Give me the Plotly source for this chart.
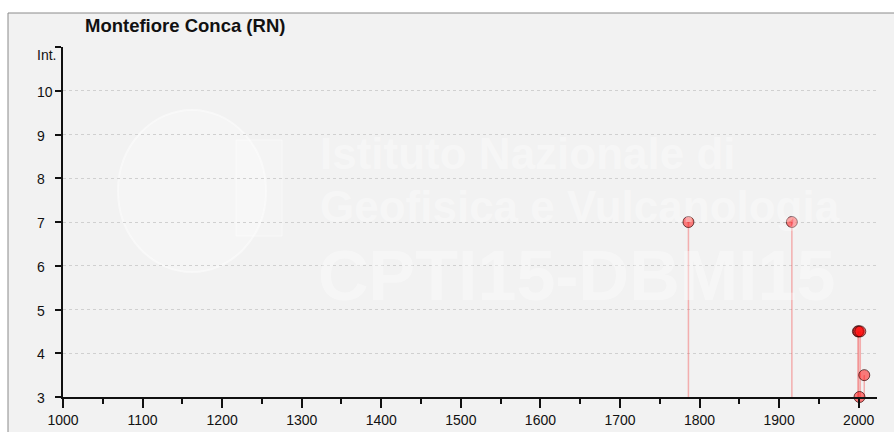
import plotly.graph_objects as go

# ---- data ----
years = [1786, 1916, 1999, 2000, 2002, 2001, 2007]
intensity = [7, 7, 4.5, 4.5, 4.5, 3, 3.5]
x_tick_vals = [1000, 1100, 1200, 1300, 1400, 1500, 1600, 1700, 1800, 1900, 2000]
x_tick_text = ["1000", "1100", "1200", "1300", "1400", "1500", "1600", "1700", "1800", "1900", "2000"]
y_tick_vals = [3, 4, 5, 6, 7, 8, 9, 10, 11]
y_tick_text = ["3", "4", "5", "6", "7", "8", "9", "10", "Int."]
title_text = "Montefiore Conca (RN)"
watermark_lines = ["Istituto Nazionale di", "Geofisica e Vulcanologia", "CPTI15-DBMI15"]

W, H = 894, 432
L, R, T, B = 63, 17, 47, 35
PW, PH = W - L - R, H - T - B
Y_MIN, Y_MAX = 3, 11


def px(x):
    return (x - L) / PW


def py(y):
    return (H - B - y) / PH


FONT = "Liberation Sans, Arial, sans-serif"
WM = "rgba(255,255,255,0.35)"

fig = go.Figure()
fig.add_trace(go.Scatter(
    x=years, y=intensity, mode="markers",
    marker=dict(size=11, color="rgba(255,0,0,0.5)",
                line=dict(color="rgba(40,0,0,0.85)", width=0.8)),
    error_y=dict(type="data", symmetric=False,
                 array=[0] * len(intensity),
                 arrayminus=[v - Y_MIN for v in intensity],
                 color="rgba(245,80,80,0.42)", thickness=1.5, width=0),
    cliponaxis=False, hoverinfo="x+y", showlegend=False,
))

shapes = [
    # outer panel
    dict(type="rect", xref="paper", yref="paper", layer="below",
         x0=px(8), x1=px(W + 10), y0=py(H + 10), y1=py(13),
         fillcolor="#f2f2f2", line=dict(color="#8a8a8a", width=1)),
    # faint globe logo
    dict(type="circle", xref="paper", yref="paper", layer="below",
         x0=px(118), x1=px(266), y0=py(272), y1=py(110),
         fillcolor="rgba(255,255,255,0.22)", line=dict(color="rgba(255,255,255,0.45)", width=2)),
    dict(type="rect", xref="paper", yref="paper", layer="below",
         x0=px(236), x1=px(282), y0=py(236), y1=py(140),
         fillcolor="rgba(255,255,255,0.2)", line=dict(color="rgba(255,255,255,0.45)", width=1)),
]

annotations = [
    dict(text=watermark_lines[0], xref="paper", yref="paper", x=px(318), y=py(153),
         xanchor="left", yanchor="middle", showarrow=False,
         font=dict(family=FONT, size=44, color=WM, weight="bold")),
    dict(text=watermark_lines[1], xref="paper", yref="paper", x=px(318), y=py(206),
         xanchor="left", yanchor="middle", showarrow=False,
         font=dict(family=FONT, size=44, color=WM, weight="bold")),
    dict(text=watermark_lines[2], xref="paper", yref="paper", x=px(316), y=py(276),
         xanchor="left", yanchor="middle", showarrow=False,
         font=dict(family=FONT, size=70, color=WM, weight="bold")),
]

# y tick labels: left-aligned column, "Int." sits just below the top tick
for v, t in zip(y_tick_vals, y_tick_text):
    annotations.append(dict(
        text=t, xref="paper", yref="y", x=px(35), y=v,
        xanchor="left", yanchor="middle", showarrow=False,
        yshift=-8 if t == "Int." else -1,
        font=dict(family=FONT, size=14, color="#111")))

fig.update_layout(
    width=W, height=H,
    margin=dict(l=L, r=R, t=T, b=B, autoexpand=False),
    paper_bgcolor="white", plot_bgcolor="#f2f2f2",
    font=dict(family=FONT, size=14, color="#111"),
    title=dict(text="<b>" + title_text + "</b>", x=85 / W, xref="container", xanchor="left",
               y=1 - 26 / H, yref="container", yanchor="middle",
               font=dict(family=FONT, size=18.5, color="#111")),
    shapes=shapes, annotations=annotations,
    xaxis=dict(range=[1000, 2023], tickvals=x_tick_vals, ticktext=x_tick_text,
               tickfont=dict(size=14), automargin=False,
               ticks="outside", ticklen=9, tickwidth=1.5, tickcolor="#111",
               minor=dict(dtick=50, tick0=1000, ticks="outside", ticklen=5, tickwidth=1.5,
                          tickcolor="#111", showgrid=False),
               showline=True, linecolor="#111", linewidth=1.5, showgrid=False, zeroline=False,
               fixedrange=True),
    yaxis=dict(range=[Y_MIN, Y_MAX], tickvals=y_tick_vals, showticklabels=False,
               automargin=False,
               ticks="outside", ticklen=6, tickwidth=1.5, tickcolor="#111",
               showline=True, linecolor="#111", linewidth=1.8,
               showgrid=True, gridcolor="#d0d0d0", griddash="dot", gridwidth=1,
               zeroline=False, fixedrange=True),
)

fig.write_html("out.html", config={"displayModeBar": False},
               post_script="document.body.style.margin='0';")
